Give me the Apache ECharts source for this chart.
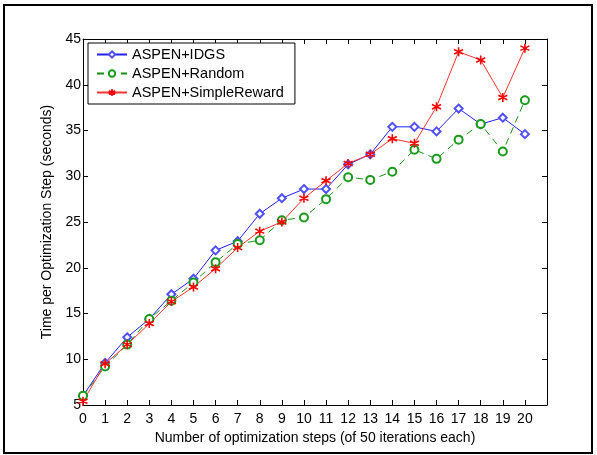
<!DOCTYPE html>
<html>
<head>
<meta charset="utf-8">
<script src="https://cdn.jsdelivr.net/npm/echarts@6/dist/echarts.min.js"></script>
<style>
  html, body { margin: 0; padding: 0; background: #fff; }
  #chart { width: 597px; height: 455px; }
</style>
</head>
<body>
<div id="chart"></div>
<script>
var steps = [0, 1, 2, 3, 4, 5, 6, 7, 8, 9, 10, 11, 12, 13, 14, 15, 16, 17, 18, 19, 20];
var idgs = [6.0, 9.6, 12.4, 14.4, 17.1, 18.8, 21.9, 22.9, 25.9, 27.6, 28.6, 28.6, 31.3, 32.4, 35.4, 35.4, 34.9, 37.4, 35.7, 36.4, 34.6];
var random = [6.0, 9.2, 11.6, 14.4, 16.4, 18.4, 20.6, 22.6, 23.0, 25.2, 25.5, 27.5, 29.9, 29.6, 30.5, 32.9, 31.9, 34.0, 35.7, 32.7, 38.3];
var simpleReward = [5.4, 9.5, 11.6, 13.9, 16.3, 17.9, 19.9, 22.2, 24.0, 25.0, 27.6, 29.5, 31.4, 32.4, 34.1, 33.6, 37.6, 43.6, 42.7, 38.6, 44.0];

var font = 'Liberation Sans, Arial, sans-serif';
var asterisk = 'path://M0,-5L0,5M-4.3,-2.5L4.3,2.5M-4.3,2.5L4.3,-2.5M-2,0L2,0M0,-2L0,2';

function pairs(vals) {
    return vals.map(function (v, i) { return [steps[i], v]; });
}

var axisBase = {
    type: 'value',
    axisLine: { show: true, onZero: false, lineStyle: { color: '#000', width: 1 } },
    axisTick: { show: true, inside: true, length: 5, lineStyle: { color: '#000' } },
    splitLine: { show: false }
};

var option = {
    animation: false,
    backgroundColor: '#fff',
    textStyle: { fontFamily: font },
    graphic: [{
        type: 'rect',
        shape: { x: 4, y: 5, width: 588, height: 448 },
        style: { fill: 'none', stroke: '#000', lineWidth: 2 },
        silent: true
    }],
    legend: {
        orient: 'vertical',
        left: 88,
        top: 43,
        itemWidth: 30,
        itemHeight: 8,
        itemGap: 4,
        padding: [4, 11, 4, 8],
        borderColor: '#000',
        borderWidth: 1,
        backgroundColor: '#fff',
        textStyle: { fontFamily: font, fontSize: 14.5, color: '#000' },
        data: ['ASPEN+IDGS', 'ASPEN+Random', 'ASPEN+SimpleReward']
    },
    grid: { left: 83, right: 50, top: 39, bottom: 50 },
    xAxis: [
        Object.assign({}, axisBase, {
            min: 0, max: 21, interval: 1,
            position: 'bottom',
            name: 'Number of optimization steps (of 50 iterations each)',
            nameLocation: 'middle',
            nameGap: 25,
            nameTextStyle: { fontFamily: font, fontSize: 14, color: '#000' },
            axisLabel: {
                margin: 7, color: '#000', fontSize: 14, fontFamily: font,
                formatter: function (v) { return v <= 20 ? String(v) : ''; }
            }
        }),
        Object.assign({}, axisBase, {
            min: 0, max: 21, interval: 1,
            position: 'top',
            axisLabel: { show: false }
        })
    ],
    yAxis: [
        Object.assign({}, axisBase, {
            min: 5, max: 45, interval: 5,
            position: 'left',
            name: 'Time per Optimization Step (seconds)',
            nameLocation: 'middle',
            nameGap: 22,
            nameTextStyle: { fontFamily: font, fontSize: 14, color: '#000' },
            axisLabel: { margin: 2, color: '#000', fontSize: 14, fontFamily: font }
        }),
        Object.assign({}, axisBase, {
            min: 5, max: 45, interval: 5,
            position: 'right',
            axisLabel: { show: false }
        })
    ],
    series: [
        {
            name: 'ASPEN+IDGS',
            type: 'line',
            data: pairs(idgs),
            symbol: 'emptyDiamond',
            symbolSize: 8,
            lineStyle: { color: '#2020ff', width: 1 },
            itemStyle: { color: '#5050ff', borderWidth: 0.9 }
        },
        {
            name: 'ASPEN+Random',
            type: 'line',
            data: pairs(random),
            symbol: 'emptyCircle',
            symbolSize: 8,
            lineStyle: { color: '#159015', width: 1, type: [7, 5] },
            itemStyle: { color: '#1a9a1a', borderWidth: 0.9 }
        },
        {
            name: 'ASPEN+SimpleReward',
            type: 'line',
            data: pairs(simpleReward),
            symbol: asterisk,
            symbolSize: 9,
            lineStyle: { color: '#ff3030', width: 1 },
            itemStyle: { color: '#ff0000', borderColor: '#ff0000', borderWidth: 1.6 }
        }
    ]
};

var chart = echarts.init(document.getElementById('chart'));
chart.setOption(option);
</script>
</body>
</html>
